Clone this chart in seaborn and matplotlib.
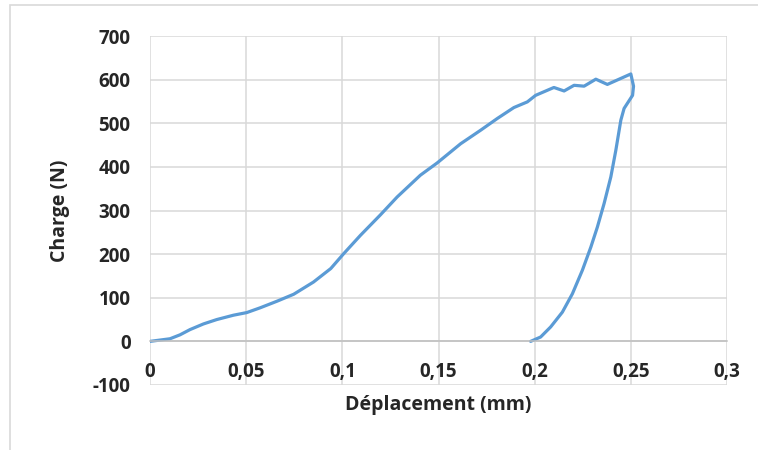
import pandas as pd
import matplotlib.pyplot as plt
import seaborn as sns
from matplotlib.patches import Rectangle

# load-unload curve (mm, N)
deplacement = [0, 0.0104, 0.0156, 0.0208, 0.0278, 0.0347, 0.0434, 0.0503, 0.0573,
               0.066, 0.0747, 0.085, 0.094, 0.1007, 0.1094, 0.1198, 0.1285, 0.1406,
               0.1493, 0.1615, 0.1719, 0.1806, 0.1892, 0.1962, 0.2005, 0.21, 0.2153,
               0.2205, 0.2257, 0.2318, 0.2378, 0.2439, 0.25, 0.2514, 0.2509, 0.2465,
               0.2448, 0.2422, 0.2396, 0.2361, 0.2326, 0.2292, 0.2248, 0.2196,
               0.2144, 0.2083, 0.2031, 0.1979]
charge = [0, 6, 15, 27, 40, 50, 60, 66, 77,
          92, 108, 136, 167, 201, 243, 290, 331, 381,
          409, 453, 484, 511, 536, 549, 564, 582, 574,
          587, 585, 601, 589, 601, 613, 585, 564, 534,
          507, 438, 377, 316, 262, 216, 163, 109,
          67, 33, 10, 0]

x_ticks = [0, 0.05, 0.1, 0.15, 0.2, 0.25, 0.3]
x_labels = ["0", "0,05", "0,1", "0,15", "0,2", "0,25", "0,3"]
y_ticks = [-100, 0, 100, 200, 300, 400, 500, 600, 700]

df = pd.DataFrame({"Déplacement": deplacement, "Charge": charge})

sns.set_style("whitegrid", {"grid.color": "#D9D9D9"})
plt.rcParams["font.family"] = ["Open Sans", "DejaVu Sans"]
plt.rcParams["axes.unicode_minus"] = False

fig = plt.figure(figsize=(7.58, 4.5), dpi=100)
ax = fig.add_axes([150 / 758, 1 - 385 / 450, 577 / 758, 349 / 450])

# outer chart frame
fig.patches.append(Rectangle((10 / 758, -0.1), 1.2, 1 - 5 / 450 + 0.1,
                             transform=fig.transFigure, fill=False,
                             edgecolor="#D9D9D9", linewidth=1.2))

sns.lineplot(data=df, x="Déplacement", y="Charge", sort=False, ax=ax,
             color="#5B9BD5", linewidth=2.3, estimator=None)

ax.set_xlim(0, 0.3)
ax.set_ylim(-100, 700)
ax.set_xticks(x_ticks)
ax.set_xticklabels(x_labels)
ax.set_yticks(y_ticks)
ax.grid(True, color="#D9D9D9", linewidth=1.1)

for s in ["top", "right", "left"]:
    ax.spines[s].set_visible(False)
ax.spines["bottom"].set_position(("data", 0))
ax.spines["bottom"].set_color("#BFBFBF")
ax.spines["bottom"].set_linewidth(1.1)

ax.tick_params(axis="x", length=0, pad=15, labelsize=13.5)
ax.tick_params(axis="y", length=0, pad=14, labelsize=13.5)
for lab in ax.get_xticklabels() + ax.get_yticklabels():
    lab.set_fontweight("bold")

ax.set_xlabel("Déplacement (mm)", fontsize=14, fontweight="bold")
ax.set_ylabel("Charge (N)", fontsize=14, fontweight="bold")
ax.xaxis.set_label_coords(0.5, -0.03)
ax.yaxis.set_label_coords(-0.139, 0.5)

fig.savefig("out.png", dpi=100)
